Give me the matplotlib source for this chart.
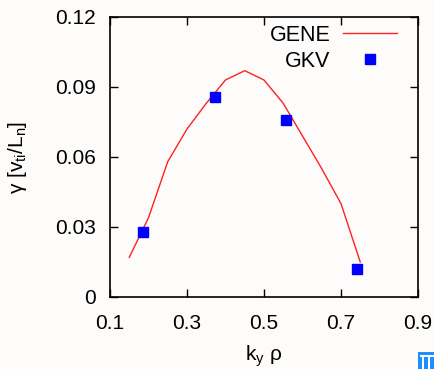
import matplotlib
matplotlib.use("Agg")
import matplotlib.pyplot as plt
from matplotlib.patches import Rectangle

plt.rcParams['font.family'] = ['Liberation Sans', 'DejaVu Sans']
plt.rcParams['mathtext.fontset'] = 'custom'
plt.rcParams['mathtext.rm'] = 'Liberation Sans'
plt.rcParams['mathtext.it'] = 'Liberation Sans'

# GENE growth rate curve
gene_ky = [0.15, 0.20, 0.25, 0.30, 0.35, 0.40, 0.45, 0.50, 0.55, 0.60, 0.65, 0.70, 0.75]
gene_gamma = [0.017, 0.034, 0.058, 0.072, 0.083, 0.093, 0.097, 0.093, 0.083, 0.069, 0.055, 0.040, 0.015]

# GKV points
gkv_ky = [0.186, 0.373, 0.557, 0.741]
gkv_gamma = [0.0277, 0.0859, 0.0759, 0.0122]

xticks = [0.1, 0.3, 0.5, 0.7, 0.9]
xticklabels = ['0.1', '0.3', '0.5', '0.7', '0.9']
yticks = [0, 0.03, 0.06, 0.09, 0.12]
yticklabels = ['0', '0.03', '0.06', '0.09', '0.12']

W, H = 435, 369
fig = plt.figure(figsize=(W / 100, H / 100), dpi=100)
fig.patch.set_facecolor('#fdfcfb')
ax = fig.add_axes([110 / W, (H - 297) / H, (418 - 110) / W, (297 - 17) / H])
ax.set_facecolor('#fdfcfb')

ax.plot(gene_ky, gene_gamma, color='#ff2020', lw=1.0, label='GENE')
ax.plot(gkv_ky, gkv_gamma, ls='none', marker='s', ms=7.3, color='#0000ff',
        mec='#0000ff', label='GKV')

ax.set_xlim(0.1, 0.9)
ax.set_ylim(0, 0.12)
ax.set_xticks(xticks)
ax.set_xticklabels(xticklabels)
ax.set_yticks(yticks)
ax.set_yticklabels(yticklabels)
ax.tick_params(direction='in', length=6, width=1, top=True, right=True,
               labelsize=15)
ax.tick_params(axis='x', pad=12)
ax.tick_params(axis='y', pad=10)
for s in ax.spines.values():
    s.set_linewidth(1.2)

ax.set_xlabel(r'k$_\mathrm{y}$ ρ', fontsize=15, labelpad=8)
ax.set_ylabel(r'γ [v$_\mathrm{ti}$/L$_\mathrm{n}$]', fontsize=15, labelpad=19)

leg = ax.legend(loc='upper right', bbox_to_anchor=(397 / W, (H - 25) / H),
                bbox_transform=fig.transFigure, frameon=False, markerfirst=False,
                fontsize=15.5, handlelength=2.5, handletextpad=0.6,
                labelspacing=0.22, borderpad=0, borderaxespad=0)

# small blue badge in the lower right corner
fig.patches.append(Rectangle((418 / W, 0), 17 / W, 17 / H, transform=fig.transFigure,
                             facecolor='#1e8fff', edgecolor='none'))
for bx in (422, 428):
    fig.patches.append(Rectangle((bx / W, 0), 2 / W, 12 / H, transform=fig.transFigure,
                                 facecolor='white', edgecolor='none'))
fig.patches.append(Rectangle((420 / W, 12 / H), 15 / W, 2 / H, transform=fig.transFigure,
                             facecolor='white', edgecolor='none'))

fig.savefig('out.png', dpi=100, facecolor=fig.get_facecolor())
